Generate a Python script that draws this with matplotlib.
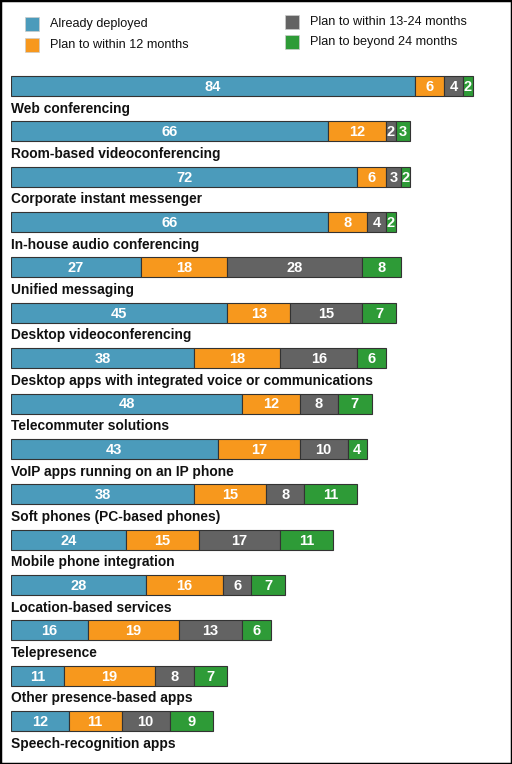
import numpy as np
from matplotlib import pyplot as plt
from matplotlib.patches import Rectangle

categories = ['Web conferencing', 'Room-based videoconferencing', 'Corporate instant messenger',
	'In-house audio conferencing', 'Unified messaging', 'Desktop videoconferencing',
	'Desktop apps with integrated voice or communications', 'Telecommuter solutions',
	'VoIP apps running on an IP phone', 'Soft phones (PC-based phones)', 'Mobile phone integration',
	'Location-based services', 'Telepresence', 'Other presence-based apps', 'Speech-recognition apps']
deployed = [84, 66, 72, 66, 27, 45, 38, 48, 43, 38, 24, 28, 16, 11, 12]
within12 = [6, 12, 6, 8, 18, 13, 18, 12, 17, 15, 15, 16, 19, 19, 11]
within24 = [4, 2, 3, 4, 28, 15, 16, 8, 10, 8, 17, 6, 13, 8, 10]
beyond24 = [2, 3, 2, 2, 8, 7, 6, 7, 4, 11, 11, 7, 6, 7, 9]
series_names = ['Already deployed', 'Plan to within 12 months', 'Plan to within 13-24 months', 'Plan to beyond 24 months']
colors = ['#4b9bbb', '#f7981d', '#636363', '#2e9b37']

W, H = 512, 764
fig = plt.figure(figsize=(W/100, H/100), dpi=100)
ax = fig.add_axes([11/W, 0, 490/W, 1])
pitch = 45.36
ax.set_xlim(0, 490/4.81)
ax.set_ylim((H-86)/pitch, -86/pitch)
ax.axis('off')

y = np.arange(len(categories))
left = np.zeros(len(categories))
for vals, c in zip([deployed, within12, within24, beyond24], colors):
	vals = np.array(vals)
	ax.barh(y, vals, left=left, height=20/pitch, color=c, edgecolor='#333333', linewidth=0.8)
	for yi, l, v in zip(y, left, vals):
		ax.text(l + v/2, yi + 0.02, str(v), ha='center', va='center', color='white',
			fontsize=10.5, fontweight='bold', family='Liberation Sans')
	left = left + vals

for yi, name in zip(y, categories):
	ax.text(0, yi + 0.5, name, ha='left', va='center', fontsize=9.9, fontweight='bold',
		family='Liberation Sans', color='#111111')

# legend, drawn by hand in pixel positions
leg = [(25, 24), (25, 45), (285, 22), (285, 42)]
for (px, py), name, c in zip(leg, series_names, colors):
	fig.patches.append(Rectangle((px/W, 1-(py+7)/H), 14/W, 14/H, transform=fig.transFigure,
		facecolor=c, edgecolor='#cccccc', linewidth=0.5))
	fig.text((px+25)/W, 1-py/H, name, ha='left', va='center', fontsize=9.1,
		family='Liberation Sans', color='#111111')

fig.patches.append(Rectangle((0, 0), 1, 1, transform=fig.transFigure, fill=False,
	edgecolor='black', linewidth=2.5))

plt.savefig('out.png', dpi=100)
